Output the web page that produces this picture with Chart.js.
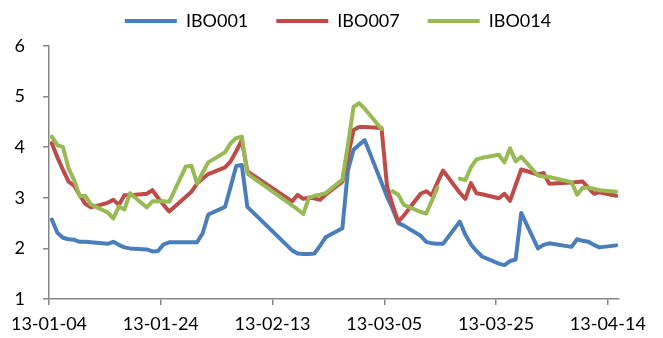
<!DOCTYPE html>
<html>
<head>
<meta charset="utf-8">
<title>IBO</title>
<script src="https://cdn.jsdelivr.net/npm/chart.js@4.4.1/dist/chart.umd.min.js"></script>
<style>
  html, body { margin: 0; padding: 0; background: #fff; }
</style>
</head>
<body>
<canvas id="chart" width="663" height="338"></canvas>
<script>
// trading days (yy-mm-dd)
const dates = [
  '13-01-04', '13-01-05', '13-01-06', '13-01-07', '13-01-08', '13-01-09', '13-01-10', '13-01-11',
  '13-01-14', '13-01-15', '13-01-16', '13-01-17', '13-01-18',
  '13-01-21', '13-01-22', '13-01-23', '13-01-24', '13-01-25',
  '13-01-28', '13-01-29', '13-01-30', '13-01-31', '13-02-01',
  '13-02-04', '13-02-05', '13-02-06', '13-02-07', '13-02-08',
  '13-02-16', '13-02-17', '13-02-18', '13-02-19', '13-02-20', '13-02-21', '13-02-22',
  '13-02-25', '13-02-26', '13-02-27', '13-02-28', '13-03-01',
  '13-03-04', '13-03-05', '13-03-06', '13-03-07', '13-03-08',
  '13-03-11', '13-03-12', '13-03-13', '13-03-14', '13-03-15',
  '13-03-18', '13-03-19', '13-03-20', '13-03-21', '13-03-22',
  '13-03-25', '13-03-26', '13-03-27', '13-03-28', '13-03-29',
  '13-04-01', '13-04-02', '13-04-03',
  '13-04-07', '13-04-08', '13-04-09', '13-04-10', '13-04-11', '13-04-12',
  '13-04-15'
];

const ibo001 = [
  2.57, 2.31, 2.21, 2.18, 2.17, 2.13, 2.13, 2.12,
  2.09, 2.13, 2.07, 2.02, 2.00,
  1.98, 1.94, 1.95, 2.08, 2.12,
  2.12, 2.12, 2.12, 2.30, 2.67,
  2.82, 3.22, 3.63, 3.65, 2.82,
  1.96, 1.90, 1.89, 1.89, 1.90, 2.05, 2.22,
  2.40, 3.55, 3.95, 4.05, 4.14,
  3.30, 3.02, 2.78, 2.50, 2.45,
  2.25, 2.13, 2.10, 2.09, 2.09,
  2.53, 2.27, 2.08, 1.95, 1.84,
  1.70, 1.67, 1.75, 1.78, 2.70,
  2.00, 2.07, 2.10,
  2.03, 2.18, 2.15, 2.13, 2.07, 2.02,
  2.06
];

const ibo007 = [
  4.08, 3.80, 3.55, 3.32, 3.24, 3.05, 2.88, 2.81,
  2.90, 2.96, 2.86, 3.05, 3.05,
  3.08, 3.15, 3.00, 2.86, 2.73,
  3.02, 3.12, 3.28, 3.38, 3.47,
  3.60, 3.72, 3.92, 4.14, 3.52,
  2.93, 3.06, 2.98, 3.00, 2.99, 2.96, 3.06,
  3.32, 3.83, 4.34, 4.40, 4.40,
  4.38, 3.22, 2.85, 2.53, 2.65,
  3.08, 3.13, 3.05, 3.30, 3.54,
  3.10, 2.98, 3.29, 3.09, 3.07,
  2.99, 3.08, 2.94, 3.25, 3.56,
  3.46, 3.49, 3.28,
  3.30, 3.31, 3.32, 3.20, 3.08, 3.11,
  3.04
];

const ibo014 = [
  4.21, 4.04, 4.00, 3.58, 3.35, 3.03, 3.04, 2.87,
  2.71, 2.59, 2.83, 2.77, 3.09,
  2.81, 2.93, 2.93, 2.93, 2.92,
  3.62, 3.63, 3.28, 3.50, 3.70,
  3.90, 4.08, 4.18, 4.21, 3.48,
  2.85, 2.77, 2.68, 3.00, 3.04, 3.06, 3.09,
  3.36, 4.05, 4.80, 4.87, 4.76,
  4.36, null, 3.13, 3.06, 2.86,
  2.72, 2.69, 2.94, 3.20, null,
  3.38, 3.35, 3.60, 3.76, 3.79,
  3.85, 3.70, 3.98, 3.72, 3.81,
  3.44, 3.42, 3.41,
  3.31, 3.06, 3.20, 3.20, 3.18, 3.15,
  3.12
];

const xTickLabels = ['13-01-04', '13-01-24', '13-02-13', '13-03-05', '13-03-25', '13-04-14'];

const START = Date.UTC(2013, 0, 4);
const FONT = 'Lato';
const AXIS = '#868686';

function dayOffset(s) {
  const [y, m, d] = s.split('-').map(Number);
  return (Date.UTC(2000 + y, m - 1, d) - START) / 864e5;
}

// excel date axis puts each day in the middle of its slot
function toPoints(values) {
  return dates.map((d, i) => ({ x: dayOffset(d) + 0.5, y: values[i] }));
}

function makeSet(label, values, color, order) {
  return {
    label: label,
    data: toPoints(values),
    borderColor: color,
    backgroundColor: color,
    borderWidth: 4,
    borderJoinStyle: 'round',
    borderCapStyle: 'round',
    pointRadius: 0,
    tension: 0,
    spanGaps: false,
    order: order
  };
}

// small gap under the legend, like the excel original
const legendGap = {
  id: 'legendGap',
  beforeInit(chart) {
    const fit = chart.legend.fit;
    chart.legend.fit = function () {
      fit.call(this);
      this.height += 6;
    };
  }
};

new Chart(document.getElementById('chart'), {
  type: 'line',
  data: {
    datasets: [
      makeSet('IBO001', ibo001, '#4A7EBB', 3),
      makeSet('IBO007', ibo007, '#BE4B48', 2),
      makeSet('IBO014', ibo014, '#98B954', 1)
    ]
  },
  options: {
    responsive: false,
    animation: false,
    layout: { padding: { top: -16, left: 13, right: 0, bottom: 0 } },
    plugins: {
      tooltip: { enabled: false },
      legend: {
        position: 'top',
        labels: {
          usePointStyle: true,
          pointStyle: 'line',
          pointStyleWidth: 52,
          padding: 28,
          color: '#000',
          font: { family: FONT, size: 18 },
          sort: (a, b) => a.datasetIndex - b.datasetIndex
        }
      }
    },
    scales: {
      x: {
        type: 'linear',
        min: 0,
        max: 102,
        border: { color: AXIS, width: 1.5 },
        grid: { drawOnChartArea: false, drawTicks: true, tickLength: 6, color: AXIS, lineWidth: 1.5 },
        ticks: {
          stepSize: 20,
          includeBounds: false,
          autoSkip: false,
          maxRotation: 0,
          padding: 8,
          color: '#000',
          font: { family: FONT, size: 18 },
          callback: v => xTickLabels[v / 20] ?? ''
        },
        afterFit(scale) {
          scale.height = 39;
          scale.paddingRight = 44;
        }
      },
      y: {
        min: 1,
        max: 6,
        border: { color: AXIS, width: 1.5 },
        grid: { drawOnChartArea: false, drawTicks: true, tickLength: 6, color: AXIS, lineWidth: 1.5 },
        ticks: {
          stepSize: 1,
          padding: 18,
          color: '#000',
          font: { family: FONT, size: 18 }
        },
        afterFit(scale) {
          scale.width = 36;
        }
      }
    }
  },
  plugins: [legendGap]
});
</script>
</body>
</html>
